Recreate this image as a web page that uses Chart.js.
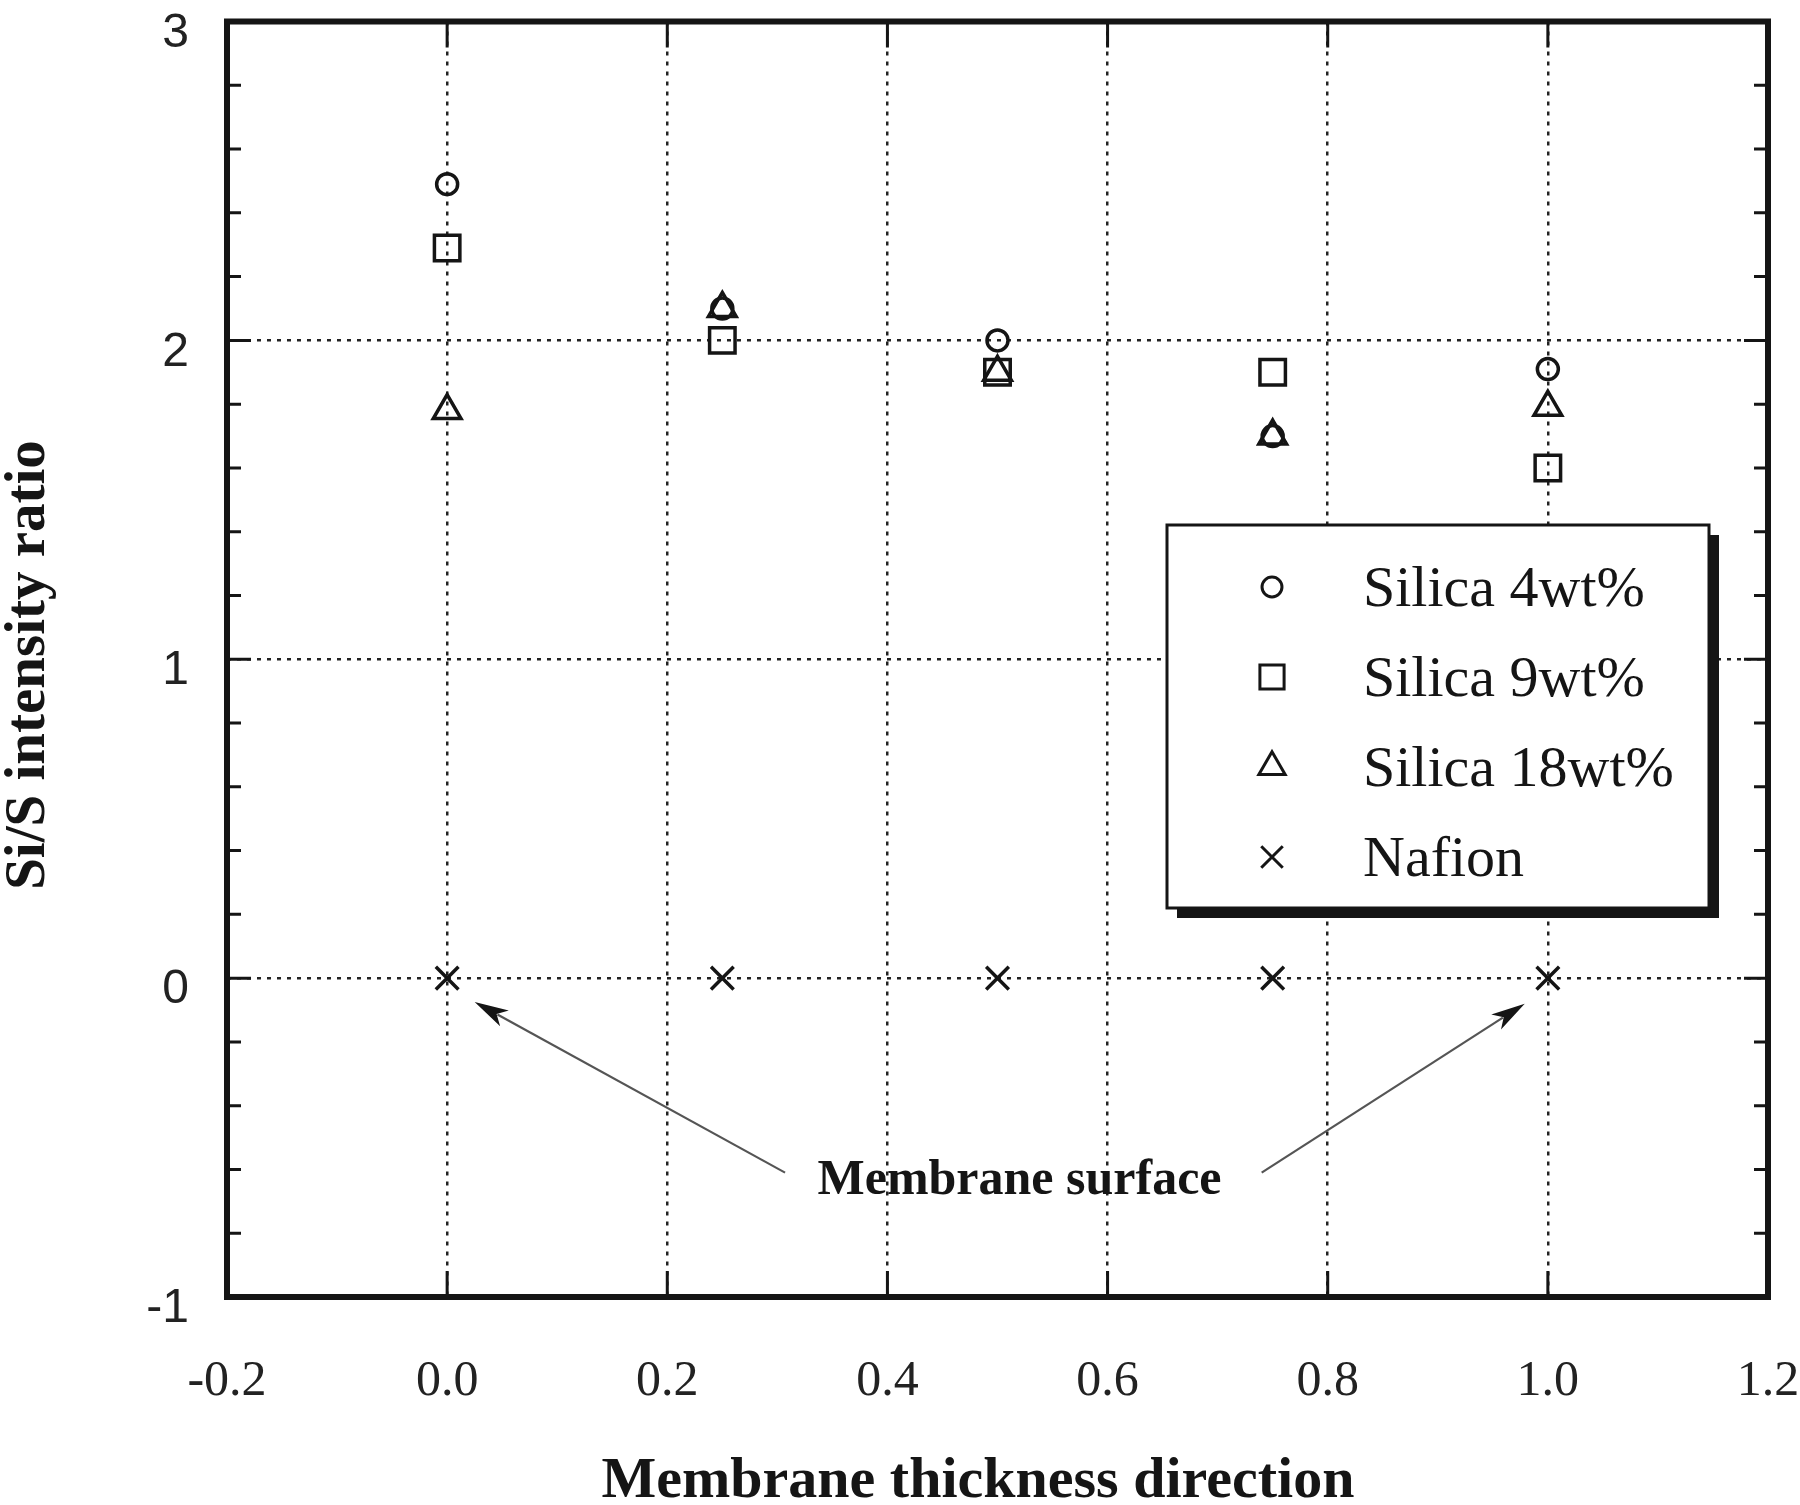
<!DOCTYPE html>
<html>
<head>
<meta charset="utf-8">
<title>Si/S intensity ratio</title>
<script src="https://cdn.jsdelivr.net/npm/chart.js@4.4.1/dist/chart.umd.min.js"></script>
<style>
  html, body { margin: 0; padding: 0; background: #fff; }
  #wrap { width: 1800px; height: 1505px; position: relative; }
</style>
</head>
<body>
<div id="wrap"><canvas id="chart"></canvas></div>
<script>
// positions across the membrane (normalised thickness)
const positions = [0, 0.25, 0.5, 0.75, 1.0];
const silica4 = [2.49, 2.1, 2.0, 1.7, 1.91];
const silica9 = [2.29, 2.0, 1.9, 1.9, 1.6];
const silica18 = [1.78, 2.1, 1.9, 1.7, 1.79];
const nafion = [0, 0, 0, 0, 0];

const seriesLabels = ["Silica 4wt%", "Silica 9wt%", "Silica 18wt%", "Nafion"];
const seriesStyles = ["circle", "rect", "triangle", "crossRot"];

const xTicks = [-0.2, 0, 0.2, 0.4, 0.6, 0.8, 1.0, 1.2];
const yTicks = [-1, 0, 1, 2, 3];

// annotation: label and the two arrows (tail -> tip), in data units
const noteText = "Membrane surface";
const notePoint = { x: 0.52, y: -0.617 };
const arrows = [
  { from: { x: 0.307, y: -0.61 }, to: { x: 0.025, y: -0.075 } },
  { from: { x: 0.74, y: -0.61 }, to: { x: 0.979, y: -0.08 } },
];

const ink = "#151515";
const serif = "'Liberation Serif', 'Times New Roman', serif";
const sans = "'Liberation Sans', Arial, sans-serif";

const markerSize = { circle: 10.5, rect: 18, triangle: 16, crossRot: 16 };

function makeDataset(label, values, style) {
  return {
    label: label,
    data: positions.map((x, i) => ({ x: x, y: values[i] })),
    pointStyle: style,
    pointRadius: markerSize[style],
    pointHoverRadius: markerSize[style],
    pointBorderWidth: 3.5,
    pointHoverBorderWidth: 3.5,
    borderColor: ink,
    backgroundColor: "rgba(0,0,0,0)",
    showLine: false,
  };
}

const framePlugin = {
  id: "frame",
  afterDraw(chart) {
    const { ctx, chartArea: a, scales } = chart;
    const xs = scales.x, ys = scales.y;
    ctx.save();
    ctx.strokeStyle = ink;
    ctx.lineCap = "butt";

    // inward ticks
    ctx.lineWidth = 3;
    ctx.beginPath();
    xTicks.forEach((v) => {
      const px = xs.getPixelForValue(v);
      ctx.moveTo(px, a.bottom); ctx.lineTo(px, a.bottom - 26);
      ctx.moveTo(px, a.top); ctx.lineTo(px, a.top + 26);
    });
    for (let v = -1; v <= 3.001; v += 0.2) {
      const py = ys.getPixelForValue(v);
      const major = Math.abs(v - Math.round(v)) < 1e-6;
      const len = major ? 24 : 14;
      ctx.moveTo(a.left, py); ctx.lineTo(a.left + len, py);
      ctx.moveTo(a.right, py); ctx.lineTo(a.right - len, py);
    }
    ctx.stroke();

    // frame
    ctx.lineWidth = 6;
    ctx.strokeRect(a.left, a.top, a.right - a.left, a.bottom - a.top);

    // arrows
    arrows.forEach((arr) => {
      const x0 = xs.getPixelForValue(arr.from.x), y0 = ys.getPixelForValue(arr.from.y);
      const x1 = xs.getPixelForValue(arr.to.x), y1 = ys.getPixelForValue(arr.to.y);
      const ang = Math.atan2(y1 - y0, x1 - x0);
      const headLen = 34, headW = 9;
      const bx = x1 - Math.cos(ang) * headLen, by = y1 - Math.sin(ang) * headLen;
      ctx.strokeStyle = "#555";
      ctx.lineWidth = 2.2;
      ctx.beginPath();
      ctx.moveTo(x0, y0); ctx.lineTo(bx + Math.cos(ang) * 8, by + Math.sin(ang) * 8);
      ctx.stroke();
      ctx.fillStyle = ink;
      ctx.beginPath();
      ctx.moveTo(x1, y1);
      ctx.lineTo(bx - Math.sin(ang) * headW, by + Math.cos(ang) * headW);
      ctx.lineTo(bx + Math.cos(ang) * 9, by + Math.sin(ang) * 9);
      ctx.lineTo(bx + Math.sin(ang) * headW, by - Math.cos(ang) * headW);
      ctx.closePath();
      ctx.fill();
    });

    // annotation label
    ctx.fillStyle = ink;
    ctx.font = "bold 50px " + serif;
    ctx.textAlign = "center";
    ctx.textBaseline = "alphabetic";
    ctx.fillText(noteText, xs.getPixelForValue(notePoint.x), ys.getPixelForValue(notePoint.y) + 19);

    // axis titles
    ctx.font = "bold 58px " + serif;
    ctx.fillText("Membrane thickness direction", 978, 1497);
    ctx.save();
    ctx.translate(44, 665);
    ctx.rotate(-Math.PI / 2);
    ctx.font = "bold 57px " + serif;
    ctx.fillText("Si/S intensity ratio", 0, 0);
    ctx.restore();

    // legend box with drop shadow
    const lb = { left: 1167, top: 525, right: 1709, bottom: 908 };
    ctx.fillStyle = ink;
    ctx.fillRect(lb.left + 10, lb.top + 10, lb.right - lb.left, lb.bottom - lb.top);
    ctx.fillStyle = "#fff";
    ctx.fillRect(lb.left, lb.top, lb.right - lb.left, lb.bottom - lb.top);
    ctx.strokeStyle = ink;
    ctx.lineWidth = 3;
    ctx.strokeRect(lb.left, lb.top, lb.right - lb.left, lb.bottom - lb.top);

    ctx.font = "58px " + serif;
    ctx.textAlign = "left";
    ctx.textBaseline = "middle";
    chart.data.datasets.forEach((ds, i) => {
      const rowY = 587 + i * 90;
      ctx.strokeStyle = ink;
      ctx.fillStyle = "rgba(0,0,0,0)";
      ctx.lineWidth = 3;
      Chart.helpers.drawPoint(ctx, {
        pointStyle: ds.pointStyle,
        radius: ds.pointRadius * 0.95,
        borderWidth: 3,
        rotation: 0,
      }, 1272, rowY);
      ctx.fillStyle = ink;
      ctx.fillText(ds.label, 1363, rowY + 4);
    });
    ctx.restore();
  },
};

new Chart(document.getElementById("chart"), {
  type: "scatter",
  data: {
    datasets: [
      makeDataset(seriesLabels[0], silica4, seriesStyles[0]),
      makeDataset(seriesLabels[1], silica9, seriesStyles[1]),
      makeDataset(seriesLabels[2], silica18, seriesStyles[2]),
      makeDataset(seriesLabels[3], nafion, seriesStyles[3]),
    ],
  },
  options: {
    responsive: true,
    maintainAspectRatio: false,
    animation: false,
    layout: { padding: { left: 0, top: 14, right: 32, bottom: 0 } },
    plugins: {
      legend: { display: false },
      tooltip: { enabled: false },
    },
    scales: {
      x: {
        type: "linear",
        min: -0.2,
        max: 1.2,
        afterBuildTicks: (scale) => { scale.ticks = xTicks.map((v) => ({ value: v })); },
        afterFit: (scale) => { scale.height = 208; scale.paddingLeft = 0; scale.paddingRight = 0; },
        grid: { color: "#222", lineWidth: 2.5, drawTicks: false },
        border: { display: false, dash: [4, 6] },
        ticks: {
          color: "#222",
          padding: 55,
          font: { family: serif, size: 50 },
          callback: (v) => Number(v).toFixed(1),
        },
      },
      y: {
        type: "linear",
        min: -1,
        max: 3,
        afterBuildTicks: (scale) => { scale.ticks = yTicks.map((v) => ({ value: v })); },
        afterFit: (scale) => { scale.width = 227; scale.paddingTop = 0; scale.paddingBottom = 0; },
        grid: { color: "#222", lineWidth: 2.5, drawTicks: false },
        border: { display: false, dash: [4, 6] },
        ticks: {
          color: "#222",
          padding: 38,
          labelOffset: 12,
          font: { family: sans, size: 48 },
          callback: (v) => String(v),
        },
      },
    },
  },
  plugins: [framePlugin],
});
</script>
</body>
</html>
